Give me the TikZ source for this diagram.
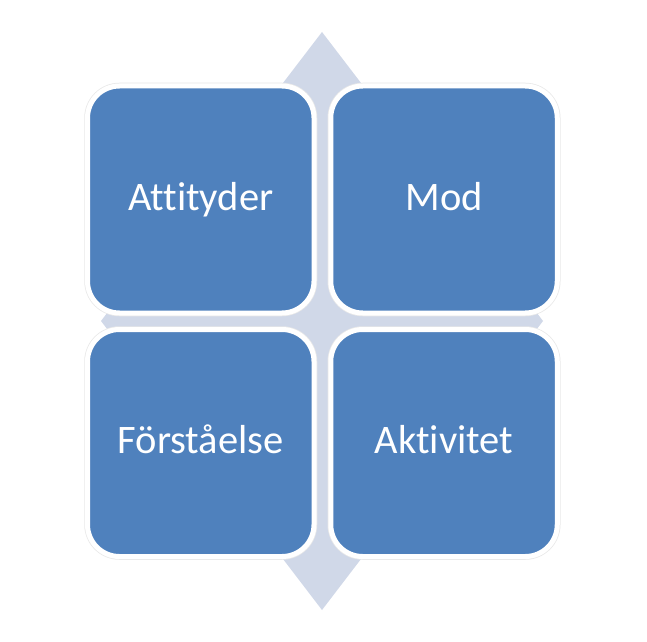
\documentclass[tikz,border=0pt]{standalone}
\usepackage{fontspec}
\setmainfont[Ligatures={NoCommon}]{Carlito}
\definecolor{boxblue}{RGB}{79,129,189}
\definecolor{diam}{RGB}{208,216,232}
\tikzset{
  cell/.style={draw=white, line width=5pt, fill=boxblue, rounded corners=32pt,
    minimum width=226.5pt, minimum height=227pt, inner sep=0pt,
    text height=21pt, text depth=0pt,
    text=white, font=\fontsize{40.5}{46}\selectfont},
  cellshadow/.style={draw=black!9, line width=6.5pt, rounded corners=32pt,
    minimum width=226.5pt, minimum height=227pt, inner sep=0pt}
}
\begin{document}
\begin{tikzpicture}[x=1pt,y=1pt]
\useasboundingbox (0,0) rectangle (647,641);
\fill[white] (0,0) rectangle (647,641);
% background diamond
\coordinate (dt) at (322,609);
\coordinate (dr) at (543,320);
\coordinate (db) at (322,31);
\coordinate (dl) at (101,320);
\fill[diam] (dt) -- (dr) -- (db) -- (dl) -- cycle;
% shadows
\node[cellshadow] at (200.75,441.5) {};
\node[cellshadow] at (444,441.5) {};
\node[cellshadow] at (200.75,198) {};
\node[cellshadow] at (444,198) {};
% cells
\node[cell] (a) at (200.75,441.5) {Attityder};
\node[cell] (m) at (444,441.5) {Mod};
\node[cell] (f) at (200.75,198) {Förståelse};
\node[cell] (k) at (444,198) {Aktivitet};
\end{tikzpicture}
\end{document}
